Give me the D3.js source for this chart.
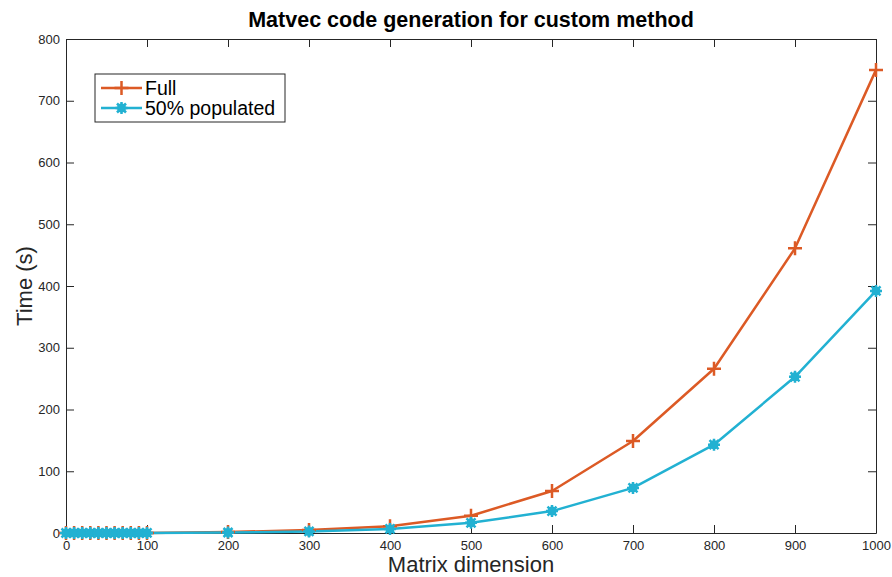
<!DOCTYPE html>
<meta charset="utf-8">
<script src="https://d3js.org/d3.v7.min.js"></script>
<style>
  body { margin: 0; background: #fff; }
  svg text { font-family: "Liberation Sans", Arial, sans-serif; fill: #262626; }
</style>
<body>
<div id="canvas"></div>
<script>
// matrix dimensions
var dims = [0, 10, 20, 30, 40, 50, 60, 70, 80, 90, 100, 200, 300, 400, 500, 600, 700, 800, 900, 1000];
// times (s)
var fullTimes = [0, 0, 0, 0, 0, 0, 0, 0, 0, 0, 0.1, 1.5, 5, 11, 28, 68, 149, 266, 461, 750];
var halfTimes = [0, 0, 0, 0, 0, 0, 0, 0, 0, 0, 0.05, 0.8, 2.5, 6.5, 16.5, 35.5, 73, 143, 253, 392];
var xTicks = [0, 100, 200, 300, 400, 500, 600, 700, 800, 900, 1000];
var yTicks = [0, 100, 200, 300, 400, 500, 600, 700, 800];
var seriesNames = ["Full", "50% populated"];
var colors = ["#dc5a25", "#22b1d2"];

var width = 892, height = 577;
var margin = {top: 39, right: 16, bottom: 44, left: 66};
var iw = width - margin.left - margin.right;
var ih = height - margin.top - margin.bottom;

var svg = d3.select('#canvas').append('svg')
    .attr('width', width).attr('height', height);

var g = svg.append('g')
    .attr('transform', 'translate(' + margin.left + ',' + margin.top + ')');

var x = d3.scaleLinear().domain([0, 1000]).range([0, iw]);
var y = d3.scaleLinear().domain([0, 800]).range([ih, 0]);

// axes with inward ticks (box on)
function styleAxis(sel, showText) {
    sel.select('.domain').attr('stroke', '#262626');
    sel.selectAll('.tick line').attr('stroke', '#262626');
    sel.selectAll('.tick text').style('font-size', '13px').attr('fill', '#262626');
    if (!showText) sel.selectAll('.tick text').remove();
}
g.append('g').attr('transform', 'translate(0,' + ih + ')')
    .call(d3.axisBottom(x).tickValues(xTicks).tickFormat(d3.format('d'))
        .tickSizeInner(-8).tickSizeOuter(0).tickPadding(8))
    .call(styleAxis, true);
g.append('g')
    .call(d3.axisTop(x).tickValues(xTicks).tickSizeInner(-8).tickSizeOuter(0))
    .call(styleAxis, false);
g.append('g')
    .call(d3.axisLeft(y).tickValues(yTicks).tickSizeInner(-8).tickSizeOuter(0).tickPadding(6))
    .call(styleAxis, true);
g.append('g').attr('transform', 'translate(' + iw + ',0)')
    .call(d3.axisRight(y).tickValues(yTicks).tickSizeInner(-8).tickSizeOuter(0))
    .call(styleAxis, false);

// lines
var line = d3.line()
    .x(function(d) { return x(d[0]); })
    .y(function(d) { return y(d[1]); });

var series = [fullTimes, halfTimes].map(function(vals) {
    return dims.map(function(d, i) { return [d, vals[i]]; });
});

series.forEach(function(s, k) {
    g.append('path')
        .attr('d', line(s))
        .attr('fill', 'none')
        .attr('stroke', colors[k])
        .attr('stroke-width', 2.5)
        .attr('stroke-linejoin', 'round');
});

// markers: plus for Full, asterisk for 50%
var plusPath = 'M-7,0H7M0,-7V7';
var starPath = 'M-6,0H6M0,-6V6M-4.5,-4.5L4.5,4.5M-4.5,4.5L4.5,-4.5';

g.selectAll('.plus').data(series[0]).enter().append('path')
    .attr('transform', function(d) { return 'translate(' + x(d[0]) + ',' + y(d[1]) + ')'; })
    .attr('d', plusPath)
    .attr('stroke', colors[0]).attr('stroke-width', 2.5).attr('fill', 'none');

g.selectAll('.star').data(series[1]).enter().append('g')
    .attr('transform', function(d) { return 'translate(' + x(d[0]) + ',' + y(d[1]) + ')'; })
    .each(function() {
        d3.select(this).append('circle').attr('r', 4.5).attr('fill', colors[1]);
        d3.select(this).append('path').attr('d', starPath)
            .attr('stroke', colors[1]).attr('stroke-width', 2.5);
    });

// legend
var lg = svg.append('g').attr('transform', 'translate(95,74)');
lg.append('rect').attr('width', 190).attr('height', 48)
    .attr('fill', '#fff').attr('stroke', '#262626').attr('stroke-width', 1);
seriesNames.forEach(function(name, k) {
    var yy = 14 + k * 20;
    lg.append('line').attr('x1', 6).attr('x2', 47).attr('y1', yy).attr('y2', yy)
        .attr('stroke', colors[k]).attr('stroke-width', 2.5);
    var mk = lg.append('g').attr('transform', 'translate(26.5,' + yy + ')');
    if (k === 0) {
        mk.append('path').attr('d', plusPath).attr('stroke', colors[k]).attr('stroke-width', 2.5);
    } else {
        mk.append('circle').attr('r', 4.5).attr('fill', colors[k]);
        mk.append('path').attr('d', starPath).attr('stroke', colors[k]).attr('stroke-width', 2.5);
    }
    lg.append('text').attr('x', 50).attr('y', yy).attr('dy', '0.35em')
        .style('font-size', '19.5px').style('fill', '#000').text(name);
});

// title & labels
svg.append('text').attr('x', margin.left + iw / 2).attr('y', 27)
    .attr('text-anchor', 'middle').style('font-size', '21.5px').style('font-weight', 'bold')
    .style('fill', '#000')
    .text('Matvec code generation for custom method');

svg.append('text').attr('x', margin.left + iw / 2).attr('y', 572)
    .attr('text-anchor', 'middle').style('font-size', '22px')
    .text('Matrix dimension');

svg.append('text')
    .attr('transform', 'translate(32,' + (margin.top + ih / 2) + ') rotate(-90)')
    .attr('text-anchor', 'middle').style('font-size', '22px')
    .text('Time (s)');
</script>
</body>
